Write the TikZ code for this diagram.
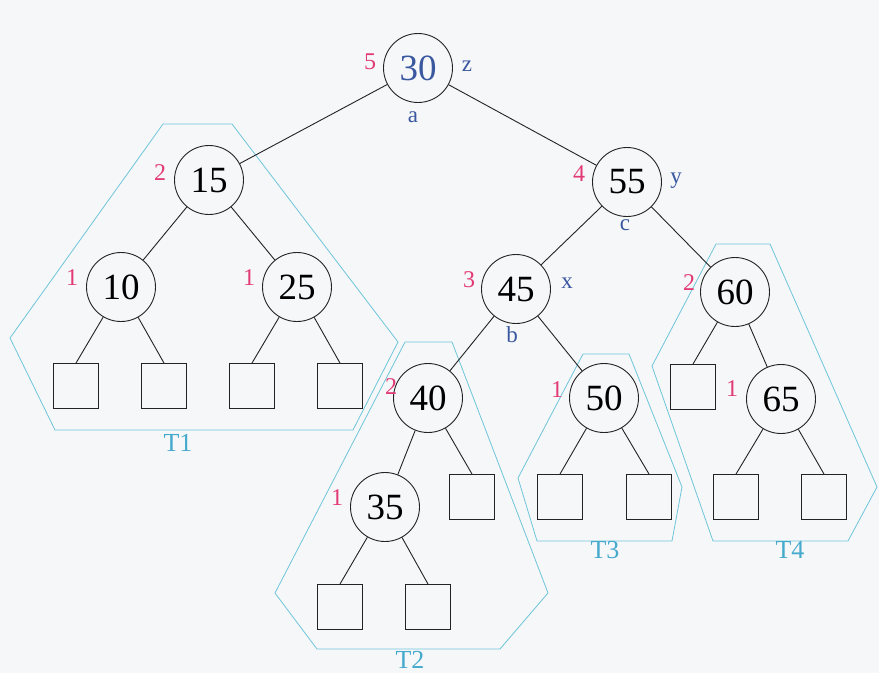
\documentclass[tikz,border=0pt]{standalone}
\usepackage{fontspec}
\setmainfont{Liberation Serif}
\usepackage{xcolor}
\usepackage{tikz}
\usetikzlibrary{positioning}
\definecolor{avlink}{RGB}{35,35,35}
\definecolor{avlht}{RGB}{226,58,118}
\definecolor{avlblue}{RGB}{58,88,160}
\definecolor{avlcyan}{RGB}{110,198,218}
\definecolor{avltag}{RGB}{70,170,205}
\definecolor{avlpaper}{RGB}{246,247,249}
\tikzset{
  keynode/.style={
    circle, draw=avlink, line width=0.9pt, minimum size=69pt,
    inner sep=0pt, font=\fontsize{37}{40}\selectfont
  },
  leaf/.style={
    rectangle, draw=avlink, line width=0.9pt, minimum size=45pt, inner sep=0pt
  },
  ht/.style={text=avlht, font=\fontsize{24}{26}\selectfont, inner sep=0pt},
  tag/.style={text=avlblue, font=\fontsize{23}{25}\selectfont, inner sep=0pt},
  edge/.style={draw=avlink, line width=0.9pt},
  sub/.style={draw=avlcyan, line width=0.8pt, line join=round},
  subname/.style={text=avltag, font=\fontsize{26}{28}\selectfont, inner sep=0pt}
}
\begin{document}
\begin{tikzpicture}[x=1pt, y=-1pt]
  \fill[avlpaper] (0,0) rectangle (879,673);
  \useasboundingbox (0,0) rectangle (879,673);
  % subtree outlines
  \draw[sub] (163,124) -- (232,124) -- (398,342) -- (353,430) -- (55,430) -- (10,338) -- cycle;
  \draw[sub] (405,342) -- (452,342) -- (548,593) -- (500,649) -- (317,649) -- (275,593) -- cycle;
  \draw[sub] (583,354) -- (629,354) -- (682,487) -- (672,541) -- (537,541) -- (518,478) -- cycle;
  \draw[sub] (716,244) -- (770,244) -- (877,487) -- (848,541) -- (713,541) -- (652,366) -- cycle;
  \node[subname] (t1) at (178,443) {T1};
  \node[subname] (t2) at (410,660) {T2};
  \node[subname] (t3) at (605,550) {T3};
  \node[subname] (t4) at (790,550) {T4};
  % keys
  \node[keynode, text=avlblue] (n30) at (418,68) {30};
  \node[keynode] (n15) at (209,180) {15};
  \node[keynode] (n55) at (627,182) {55};
  \node[keynode] (n10) at (121,287) {10};
  \node[keynode] (n25) at (297,287) {25};
  \node[keynode] (n45) at (516,289) {45};
  \node[keynode] (n60) at (735,292) {60};
  \node[keynode] (n40) at (428,398) {40};
  \node[keynode] (n50) at (604,398) {50};
  \node[keynode] (n65) at (781,399) {65};
  \node[keynode] (n35) at (385,507) {35};
  % external leaves
  \node[leaf] (l1) at (76,386) {};
  \node[leaf] (l2) at (164,386) {};
  \node[leaf] (l3) at (252,386) {};
  \node[leaf] (l4) at (340,386) {};
  \node[leaf] (l5) at (472,497) {};
  \node[leaf] (l6) at (340,607) {};
  \node[leaf] (l7) at (428,607) {};
  \node[leaf] (l8) at (560,497) {};
  \node[leaf] (l9) at (649,497) {};
  \node[leaf] (l10) at (693,387) {};
  \node[leaf] (l11) at (736,497) {};
  \node[leaf] (l12) at (824,497) {};
  % heights
  \node[ht] (h30) at (370,62) {5};
  \node[ht] (h15) at (160,173) {2};
  \node[ht] (h55) at (579,174) {4};
  \node[ht] (h10) at (72,278) {1};
  \node[ht] (h25) at (249,278) {1};
  \node[ht] (h45) at (469,280) {3};
  \node[ht] (h60) at (689,283) {2};
  \node[ht] (h40) at (391,387) {2};
  \node[ht] (h50) at (557,390) {1};
  \node[ht] (h65) at (732,389) {1};
  \node[ht] (h35) at (337,498) {1};
  % rotation tags
  \node[tag] (tz) at (467,66) {z};
  \node[tag] (ta) at (413,117) {a};
  \node[tag] (ty) at (676,181) {y};
  \node[tag] (tc) at (625,225) {c};
  \node[tag] (tx) at (567,283) {x};
  \node[tag] (tb) at (512,335) {b};
  % edges
  \draw[edge] (n30) -- (n15);
  \draw[edge] (n30) -- (n55);
  \draw[edge] (n15) -- (n10);
  \draw[edge] (n15) -- (n25);
  \draw[edge] (n10) -- (l1.north);
  \draw[edge] (n10) -- (l2.north);
  \draw[edge] (n25) -- (l3.north);
  \draw[edge] (n25) -- (l4.north);
  \draw[edge] (n55) -- (n45);
  \draw[edge] (n55) -- (n60);
  \draw[edge] (n45) -- (n40);
  \draw[edge] (n45) -- (n50);
  \draw[edge] (n40) -- (n35);
  \draw[edge] (n40) -- (l5.north);
  \draw[edge] (n35) -- (l6.north);
  \draw[edge] (n35) -- (l7.north);
  \draw[edge] (n50) -- (l8.north);
  \draw[edge] (n50) -- (l9.north);
  \draw[edge] (n60) -- (l10.north);
  \draw[edge] (n60) -- (n65);
  \draw[edge] (n65) -- (l11.north);
  \draw[edge] (n65) -- (l12.north);
\end{tikzpicture}
\end{document}
